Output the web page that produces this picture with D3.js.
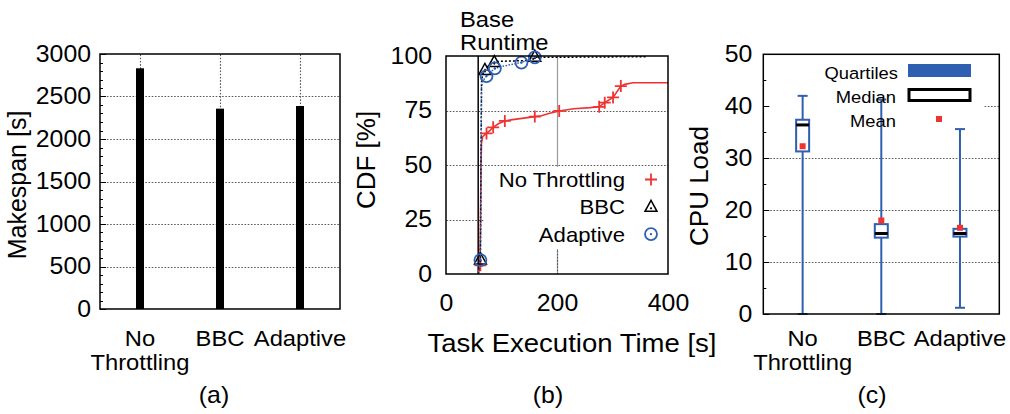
<!DOCTYPE html>
<html><head><meta charset="utf-8">
<script src="https://cdn.jsdelivr.net/npm/d3@7"></script>
<style>
html,body{margin:0;padding:0;background:#fff;}
svg{display:block;}
text{font-family:"Liberation Sans",Arial,Helvetica,sans-serif;fill:#000;}
</style></head><body>
<svg id="chart" width="1010" height="414"></svg>
<script>
// ---------- data ----------
const categories = ["No Throttling", "BBC", "Adaptive"];
const categoryLines = [["No", "Throttling"], ["BBC"], ["Adaptive"]];

// (a) makespan
const makespan = [2832, 2357, 2388];
const makespanTicks = [0, 500, 1000, 1500, 2000, 2500, 3000];

// (b) CDF of task execution time
const baseRuntime = 58;
const cdfTicksX = [0, 200, 400];
const cdfTicksY = [0, 25, 50, 75, 100];
const noThrottleT   = [58, 61, 62, 63, 64, 66, 73, 80, 85, 95, 106, 120, 140, 160, 172, 185, 204, 230, 260, 276, 286, 301, 315, 322, 337, 400];
const noThrottleCdf = [0, 3, 20, 50, 60, 63, 64.5, 66, 67.3, 69, 70.2, 70.8, 71.5, 72.2, 72.6, 73.6, 74.8, 75.8, 76.3, 76.7, 78.6, 81, 86.2, 87, 87.7, 87.7];
const noThrottleMarkT   = [62, 73, 85, 106, 160, 204, 276, 286, 301, 315];
const noThrottleMarkCdf = [4, 64.5, 67.3, 70.2, 72.2, 74.8, 76.7, 78.6, 81, 86.2];
const bbcT   = [58, 61, 62, 63, 64, 66, 70, 75, 80, 87, 100, 130, 155, 160, 250, 362];
const bbcCdf = [0, 3, 6.7, 50, 88, 91.5, 93.6, 95.2, 96.2, 97.2, 97.6, 97.8, 98, 99.4, 99.5, 99.7];
const bbcMarkT   = [62, 70, 87, 160];
const bbcMarkCdf = [6.7, 93.6, 97.2, 99.7];
const adaptiveT   = [58, 61, 62, 63, 64, 66, 73, 80, 88, 100, 120, 136, 150, 160];
const adaptiveCdf = [0, 3, 6.4, 45, 86, 88.5, 90.8, 92.5, 94.3, 95.2, 96.2, 97, 98.5, 99.4];
const adaptiveMarkT   = [62, 73, 88, 136, 160];
const adaptiveMarkCdf = [6.4, 90.8, 94.3, 97, 99.4];
const cdfLegend = ["No Throttling", "BBC", "Adaptive"];

// (c) CPU load box plot
const cpuTicks = [0, 10, 20, 30, 40, 50];
const cpuMin    = [0, 0, 1.2];
const cpuQ1     = [31.3, 14.7, 14.9];
const cpuMedian = [36.4, 15.5, 15.5];
const cpuQ3     = [37.4, 17.3, 16.4];
const cpuMax    = [42.0, 41.3, 35.6];
const cpuMean   = [32.3, 18.0, 16.6];
const cpuLegend = ["Quartiles", "Median", "Mean"];

// ---------- style ----------
const RED = "#ee3333", BLUE = "#2f5fb0", GRID = "#5a5a5a";
const SX = 1.08;
const svg = d3.select("#chart");

function stretch(sel) {
  sel.each(function () {
    const t = d3.select(this);
    const x = +t.attr("x") || 0, y = +t.attr("y") || 0;
    t.attr("transform", `translate(${x},${y}) scale(${SX},1) translate(${-x},${-y})`);
  });
}
function txt(g, x, y, s, size, anchor) {
  const t = g.append("text").attr("x", x).attr("y", y).attr("text-anchor", anchor || "middle")
    .style("font-size", size + "px").text(s);
  stretch(t);
  return t;
}
function vtitle(g, x, y, s, size) {
  g.append("text").attr("transform", `translate(${x},${y}) rotate(-90)`).attr("text-anchor", "middle")
    .style("font-size", size + "px").text(s);
}
function leftAxis(g, scale, ticks, x0, pad) {
  const ax = g.append("g").attr("transform", `translate(${x0},0)`)
    .call(d3.axisLeft(scale).tickValues(ticks).tickFormat(d3.format("d")).tickSize(0).tickPadding(pad));
  ax.attr("font-size", null).attr("font-family", null);
  ax.select(".domain").remove();
  ax.selectAll("text").style("font-size", "23px").call(stretch);
}
const snap = v => Math.round(v) + 0.5;
function gridLine(g, x1, y1, x2, y2) {
  g.append("path").attr("d", `M${x1},${y1}L${x2},${y2}`)
    .attr("fill", "none").attr("stroke", GRID).attr("stroke-width", 1.1).attr("stroke-dasharray", "1.6,1.6");
}
function hgrid(g, scale, vals, x0, x1) {
  vals.forEach(d => gridLine(g, x0 + 0.5, snap(scale(d)), x1, snap(scale(d))));
}
function inTicks(g, scale, vals, x0, len) {
  g.selectAll(null).data(vals).enter().append("line")
    .attr("x1", x0).attr("x2", x0 + len).attr("y1", d => snap(scale(d))).attr("y2", d => snap(scale(d)))
    .attr("stroke", "#000").attr("stroke-width", 1);
}
function frame(g, x0, x1, y0, y1) {
  g.append("rect").attr("x", x0).attr("y", y0).attr("width", x1 - x0).attr("height", y1 - y0)
    .attr("fill", "none").attr("stroke", "#000").attr("stroke-width", 1.5);
}
function categoryLabels(g, xs) {
  categoryLines.forEach((lines, i) => {
    const t = g.append("text").attr("x", xs(i + 1)).attr("y", 346).attr("text-anchor", "middle")
      .style("font-size", "22px");
    lines.forEach((l, j) => t.append("tspan").attr("x", xs(i + 1)).attr("dy", j ? "1.07em" : 0).text(l));
    stretch(t);
  });
}
function marker(g, type, x, y) {
  if (type === "plus") {
    g.append("path").attr("d", `M${x - 6},${y}H${x + 6}M${x},${y - 6}V${y + 6}`)
      .attr("stroke", RED).attr("stroke-width", 1.8).attr("fill", "none");
  } else if (type === "tri") {
    g.append("path").attr("d", `M${x},${y - 6.5}L${x + 6},${y + 4.5}L${x - 6},${y + 4.5}Z`)
      .attr("stroke", "#000").attr("stroke-width", 1.5).attr("fill", "none");
    g.append("circle").attr("cx", x).attr("cy", y + 1.5).attr("r", 1.1).attr("fill", "#000");
  } else {
    g.append("circle").attr("cx", x).attr("cy", y).attr("r", 6)
      .attr("stroke", BLUE).attr("stroke-width", 1.8).attr("fill", "none");
    g.append("circle").attr("cx", x).attr("cy", y).attr("r", 1.2).attr("fill", BLUE);
  }
}

// ---------- (a) ----------
{
  const g = svg.append("g");
  const x = d3.scaleLinear().domain([0.5, 3.5]).range([100, 340]);
  const y = d3.scaleLinear().domain([0, 3000]).range([309, 54]);
  hgrid(g, y, makespanTicks.slice(1, -1), x(0.5), x(3.5));
  categories.forEach((c, i) => gridLine(g, snap(x(i + 1)), y(3000) + 0.5, snap(x(i + 1)), y(0)));
  g.selectAll(null).data(makespan).enter().append("rect")
    .attr("x", (d, i) => x(i + 1) - 4).attr("width", 8)
    .attr("y", d => y(d)).attr("height", d => y(0) - y(d)).attr("fill", "#000");
  inTicks(g, y, y.ticks(30), x(0.5), 3);
  inTicks(g, y, makespanTicks, x(0.5), 6);
  leftAxis(g, y, makespanTicks, x(0.5), 9);
  frame(g, x(0.5), x(3.5), y(3000), y(0));
  vtitle(g, 26, 185, "Makespan [s]", 25);
  categoryLabels(g, x);
  txt(g, 214, 403, "(a)", 23);
}

// ---------- (b) ----------
{
  const g = svg.append("g");
  const x = d3.scaleLinear().domain([0, 400]).range([446, 668]);
  const y = d3.scaleLinear().domain([0, 100]).range([274, 56]);
  hgrid(g, y, [25, 50, 75], x(0), x(400));
  g.append("line").attr("x1", snap(x(200))).attr("x2", snap(x(200))).attr("y1", y(100)).attr("y2", y(0))
    .attr("stroke", "#9a9a9a").attr("stroke-width", 1.2);
  // opaque legend background
  g.append("rect").attr("x", 484).attr("y", 167).attr("width", 183).attr("height", 82).attr("fill", "#fff");
  gridLine(g, snap(x(200)), 250.5, snap(x(200)), y(0));
  // base runtime line
  g.append("line").attr("x1", x(baseRuntime)).attr("x2", x(baseRuntime)).attr("y1", y(0)).attr("y2", y(100))
    .attr("stroke", "#000").attr("stroke-width", 1.5);
  const line = d3.line().x(d => x(d[0])).y(d => y(d[1]));
  g.append("path").datum(noThrottleT.map((t, i) => [t, noThrottleCdf[i]])).attr("d", line)
    .attr("fill", "none").attr("stroke", RED).attr("stroke-width", 1.6);
  g.append("path").datum(bbcT.map((t, i) => [t, bbcCdf[i]])).attr("d", line)
    .attr("fill", "none").attr("stroke", "#000").attr("stroke-width", 1.5).attr("stroke-dasharray", "2,2");
  g.append("path").datum(adaptiveT.map((t, i) => [t, adaptiveCdf[i]])).attr("d", line)
    .attr("fill", "none").attr("stroke", BLUE).attr("stroke-width", 1.5).attr("stroke-dasharray", "1.5,1.5");
  noThrottleMarkT.forEach((t, i) => marker(g, "plus", x(t), y(noThrottleMarkCdf[i])));
  bbcMarkT.forEach((t, i) => marker(g, "tri", x(t), y(bbcMarkCdf[i])));
  adaptiveMarkT.forEach((t, i) => marker(g, "circ", x(t), y(adaptiveMarkCdf[i])));
  // legend
  const types = ["plus", "tri", "circ"];
  cdfLegend.forEach((s, i) => {
    const by = 187 + i * 27.3;
    txt(g, 625, by, s, 20.5, "end");
    marker(g, types[i], 651, by - 7.5);
  });
  leftAxis(g, y, cdfTicksY, x(0), 14);
  const bx = g.append("g").attr("transform", `translate(0,${y(0)})`)
    .call(d3.axisBottom(x).tickValues(cdfTicksX).tickSize(0).tickPadding(21));
  bx.attr("font-size", null).attr("font-family", null);
  bx.select(".domain").remove();
  bx.selectAll("text").style("font-size", "23px").call(stretch);
  frame(g, x(0), x(400), y(100), y(0));
  vtitle(g, 375, 160, "CDF [%]", 26);
  txt(g, 572, 352, "Task Execution Time [s]", 25.5);
  txt(g, 460, 27, "Base", 22, "start");
  txt(g, 460, 50, "Runtime", 22, "start");
  txt(g, 548, 403, "(b)", 23);
}

// ---------- (c) ----------
{
  const g = svg.append("g");
  const x = d3.scaleLinear().domain([0.5, 3.5]).range([763.3, 999.3]);
  const y = d3.scaleLinear().domain([0, 50]).range([314, 54.3]);
  hgrid(g, y, cpuTicks.slice(1, -1), x(0.5), x(3.5));
  // opaque legend background
  g.append("rect").attr("x", 765).attr("y", 56).attr("width", 218).attr("height", 72).attr("fill", "#fff");
  inTicks(g, y, y.ticks(10), x(0.5), 3);
  inTicks(g, y, cpuTicks, x(0.5), 6);
  const bw = 13, cw = 10;
  categories.forEach((c, i) => {
    const cx = x(i + 1);
    g.append("line").attr("x1", cx).attr("x2", cx).attr("y1", y(cpuMin[i])).attr("y2", y(cpuMax[i]))
      .attr("stroke", BLUE).attr("stroke-width", 2);
    [cpuMin[i], cpuMax[i]].forEach(v => g.append("line").attr("x1", cx - cw / 2).attr("x2", cx + cw / 2)
      .attr("y1", y(v)).attr("y2", y(v)).attr("stroke", BLUE).attr("stroke-width", 2));
    g.append("rect").attr("x", cx - bw / 2).attr("width", bw).attr("y", y(cpuQ3[i]))
      .attr("height", y(cpuQ1[i]) - y(cpuQ3[i])).attr("fill", "#fff").attr("stroke", BLUE).attr("stroke-width", 2);
    g.append("line").attr("x1", cx - bw / 2).attr("x2", cx + bw / 2)
      .attr("y1", y(cpuMedian[i])).attr("y2", y(cpuMedian[i])).attr("stroke", "#000").attr("stroke-width", 3);
    g.append("rect").attr("x", cx - 3).attr("y", y(cpuMean[i]) - 3).attr("width", 6).attr("height", 6).attr("fill", RED);
  });
  // legend
  txt(g, 898, 79, cpuLegend[0], 17, "end");
  g.append("rect").attr("x", 908).attr("y", 64).attr("width", 63).attr("height", 13).attr("fill", BLUE);
  txt(g, 896, 103, cpuLegend[1], 17, "end");
  g.append("rect").attr("x", 909).attr("y", 89.5).attr("width", 61).attr("height", 11)
    .attr("fill", "#fff").attr("stroke", "#000").attr("stroke-width", 3);
  txt(g, 896, 127, cpuLegend[2], 17, "end");
  g.append("rect").attr("x", 936).attr("y", 116).attr("width", 6).attr("height", 6).attr("fill", RED);
  leftAxis(g, y, cpuTicks, x(0.5), 11);
  frame(g, x(0.5), x(3.5), y(50), y(0));
  vtitle(g, 708, 186, "CPU Load", 26);
  categoryLabels(g, x);
  txt(g, 872, 403, "(c)", 23);
}
</script>
</body></html>
